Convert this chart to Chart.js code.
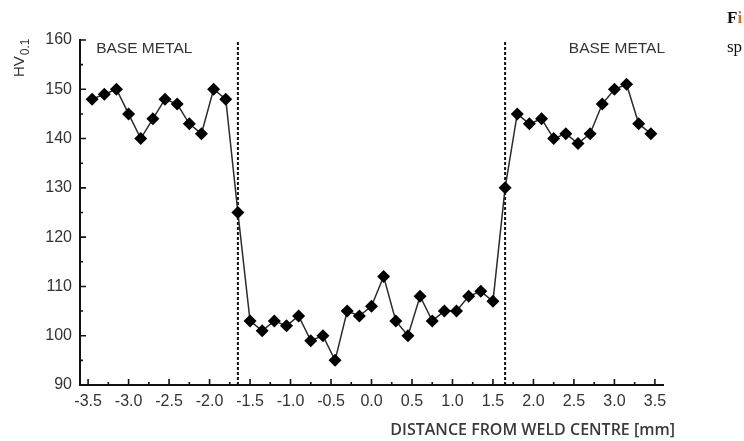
<!DOCTYPE html>
<html>
<head>
<meta charset="utf-8">
<script src="https://cdn.jsdelivr.net/npm/chart.js@4.4.1/dist/chart.umd.min.js"></script>
<style>
  html, body { margin: 0; padding: 0; background: #fff; overflow: hidden; }
  #wrap { position: relative; width: 744px; height: 441px; }
  canvas { position: absolute; left: 0; top: 0; }
  .side { position: absolute; font-family: "Liberation Serif", serif; font-size: 17px; color: #111; line-height: 1; }
</style>
</head>
<body>
<div id="wrap">
  <canvas id="hardnessChart" width="744" height="441"></canvas>
  <div class="side" style="left:727px; top:9px; font-weight:bold;">F<span style="color:#c8762a">i</span></div>
  <div class="side" style="left:727px; top:38px;">sp</div>
</div>
<script>
// distance from weld centre [mm] and microhardness HV0.1
const distance = [-3.45, -3.3, -3.15, -3.0, -2.85, -2.7, -2.55, -2.4, -2.25, -2.1, -1.95, -1.8, -1.65,
  -1.5, -1.35, -1.2, -1.05, -0.9, -0.75, -0.6, -0.45, -0.3, -0.15, 0.0, 0.15, 0.3, 0.45, 0.6, 0.75, 0.9, 1.05, 1.2, 1.35, 1.5,
  1.65, 1.8, 1.95, 2.1, 2.25, 2.4, 2.55, 2.7, 2.85, 3.0, 3.15, 3.3, 3.45];
const hardness = [148, 149, 150, 145, 140, 144, 148, 147, 143, 141, 150, 148, 125,
  103, 101, 103, 102, 104, 99, 100, 95, 105, 104, 106, 112, 103, 100, 108, 103, 105, 105, 108, 109, 107,
  130, 145, 143, 144, 140, 141, 139, 141, 147, 150, 151, 143, 141];
const weldBoundaries = [-1.65, 1.65];

const xTicks = [-3.5, -3.0, -2.5, -2.0, -1.5, -1.0, -0.5, 0.0, 0.5, 1.0, 1.5, 2.0, 2.5, 3.0, 3.5];
const xMinorTicks = [-3.25, -2.75, -2.25, -1.75, -1.25, -0.75, -0.25, 0.25, 0.75, 1.25, 1.75, 2.25, 2.75, 3.25];
const yTicks = [90, 100, 110, 120, 130, 140, 150, 160];
const yMinorTicks = [95, 105, 115, 125, 135, 145, 155];

const textColor = '#333';

const boundaryDatasets = weldBoundaries.map(b => ({
  data: [{ x: b, y: 90 }, { x: b, y: 160 }],
  showLine: true,
  borderColor: '#111',
  borderWidth: 2,
  borderDash: [3, 2],
  pointRadius: 0
}));

// inward tick marks, region labels and axis titles
const decorations = {
  id: 'decorations',
  afterDatasetsDraw(chart) {
    const { ctx, scales: { x, y }, chartArea } = chart;
    ctx.save();
    ctx.strokeStyle = '#111';
    ctx.lineWidth = 1.6;
    ctx.beginPath();
    xTicks.forEach(v => { const px = x.getPixelForValue(v); ctx.moveTo(px, chartArea.bottom); ctx.lineTo(px, chartArea.bottom - 6); });
    xMinorTicks.forEach(v => { const px = x.getPixelForValue(v); ctx.moveTo(px, chartArea.bottom); ctx.lineTo(px, chartArea.bottom - 3); });
    yTicks.forEach(v => { const py = y.getPixelForValue(v); ctx.moveTo(chartArea.left, py); ctx.lineTo(chartArea.left + 6, py); });
    yMinorTicks.forEach(v => { const py = y.getPixelForValue(v); ctx.moveTo(chartArea.left, py); ctx.lineTo(chartArea.left + 3, py); });
    ctx.stroke();

    ctx.fillStyle = textColor;
    ctx.font = '15.5px "Liberation Sans", Arial, sans-serif';
    ctx.textBaseline = 'middle';
    ctx.textAlign = 'left';
    ctx.fillText('BASE METAL', x.getPixelForValue(-3.4), y.getPixelForValue(158.3));
    ctx.textAlign = 'right';
    ctx.fillText('BASE METAL', x.getPixelForValue(3.6) + 2, y.getPixelForValue(158.3));

    // x title
    ctx.font = '600 16px "Open Sans", sans-serif';
    ctx.fillStyle = '#3a3a3a';
    ctx.textAlign = 'right';
    ctx.textBaseline = 'alphabetic';
    ctx.fillText('DISTANCE FROM WELD CENTRE [mm]', 675, 435);

    // y title: HV with subscript 0.1
    ctx.translate(24, 77);
    ctx.rotate(-Math.PI / 2);
    ctx.textAlign = 'left';
    ctx.fillStyle = textColor;
    ctx.font = '15px "Liberation Sans", Arial, sans-serif';
    ctx.fillText('HV', 0, 0);
    const w = ctx.measureText('HV').width;
    ctx.font = '12px "Liberation Sans", Arial, sans-serif';
    ctx.fillText('0.1', w + 1, 5);
    ctx.restore();
  }
};

const config = {
  type: 'scatter',
  data: {
    datasets: [
      {
        label: 'HV0.1',
        data: distance.map((d, i) => ({ x: d, y: hardness[i] })),
        showLine: true,
        borderColor: '#2b2b2b',
        borderWidth: 1.5,
        pointStyle: 'rectRot',
        pointRadius: 6.5,
        pointBackgroundColor: '#000',
        pointBorderColor: '#000',
        pointBorderWidth: 0
      },
      ...boundaryDatasets
    ]
  },
  options: {
    responsive: false,
    animation: false,
    layout: { padding: { left: 0, top: 40, right: 81, bottom: 0 } },
    plugins: {
      legend: { display: false },
      tooltip: { enabled: false }
    },
    scales: {
      x: {
        type: 'linear',
        min: -3.6,
        max: 3.6,
        afterBuildTicks: s => { s.ticks = xTicks.map(v => ({ value: v })); },
        afterFit: s => { s.height = 56; },
        grid: { display: false, drawTicks: false },
        border: { display: true, color: '#111', width: 2 },
        ticks: {
          autoSkip: false,
          maxRotation: 0,
          padding: 7,
          color: textColor,
          font: { family: '"Liberation Sans", Arial, sans-serif', size: 16 },
          callback: v => v.toFixed(1)
        }
      },
      y: {
        min: 90,
        max: 160,
        afterBuildTicks: s => { s.ticks = yTicks.map(v => ({ value: v })); },
        afterFit: s => { s.width = 80; },
        grid: { display: false, drawTicks: false },
        border: { display: true, color: '#111', width: 2 },
        ticks: {
          padding: 8,
          color: textColor,
          font: { family: '"Liberation Sans", Arial, sans-serif', size: 16 }
        }
      }
    }
  },
  plugins: [decorations]
};

const ctx = document.getElementById('hardnessChart').getContext('2d');
const hardnessChart = new Chart(ctx, config);
</script>
</body>
</html>
